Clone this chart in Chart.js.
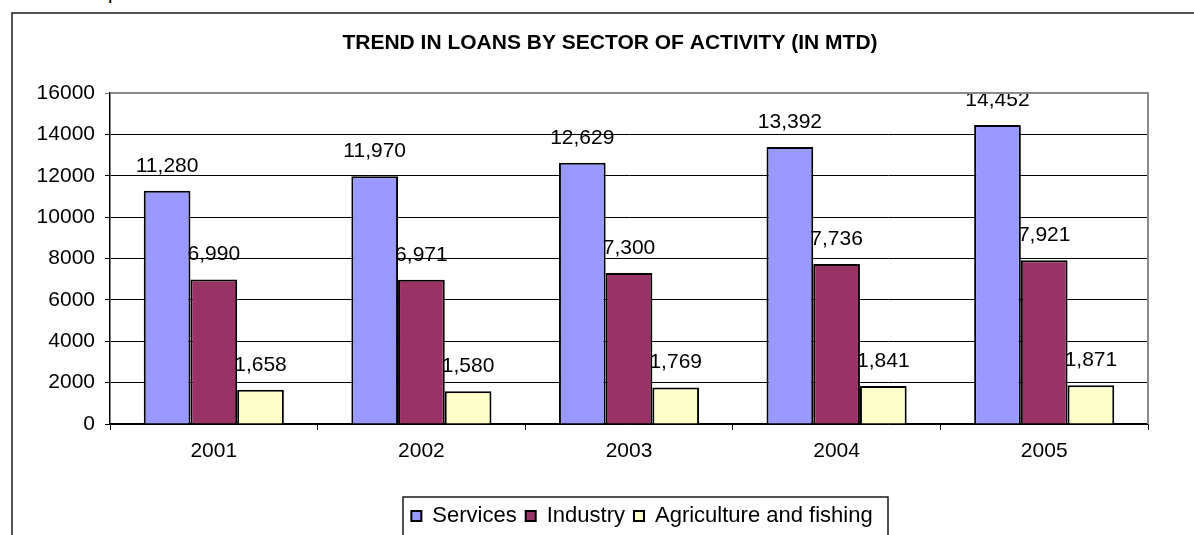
<!DOCTYPE html>
<html>
<head>
<meta charset="utf-8">
<script src="https://cdn.jsdelivr.net/npm/chart.js@4.4.1/dist/chart.umd.min.js"></script>
<style>
  html, body { margin: 0; padding: 0; background: #fff; overflow: hidden; }
  #wrap { position: relative; width: 1194px; height: 535px; }
  #chart { position: absolute; left: 0; top: 0; }
  #frag { position: absolute; left: 108px; top: -18px; font: 20px "Liberation Sans", Arial, sans-serif; color: #000; line-height: 1; }
</style>
</head>
<body>
<div id="wrap">
  <span id="frag">p</span>
  <canvas id="chart" width="1194" height="535"></canvas>
</div>
<script>
// Loans by sector of activity, in MTD
const years = ['2001', '2002', '2003', '2004', '2005'];
const services = [11280, 11970, 12629, 13392, 14452];
const industry = [6990, 6971, 7300, 7736, 7921];
const agriculture = [1658, 1580, 1769, 1841, 1871];
const yTicks = [0, 2000, 4000, 6000, 8000, 10000, 12000, 14000, 16000];

const FONT = '"Liberation Sans", Arial, sans-serif';
const titleText = 'TREND IN LOANS BY SECTOR OF ACTIVITY (IN MTD)';

// Outer frame, plot frame, title and legend box
const framePlugin = {
  id: 'frame',
  afterLayout(chart) {
    const lg = chart.legend;
    if (lg) { lg.left += 68; lg.right += 68; lg.top += 2; lg.bottom += 2; }
  },
  beforeDraw(chart) {
    const ctx = chart.ctx;
    ctx.save();
    ctx.strokeStyle = '#1a1a1a';
    ctx.lineWidth = 1.5;
    ctx.beginPath();
    ctx.moveTo(12, 535);
    ctx.lineTo(12, 13);
    ctx.lineTo(1194, 13);
    ctx.stroke();
    ctx.fillStyle = '#000';
    ctx.font = 'bold 21px ' + FONT;
    ctx.textAlign = 'center';
    ctx.textBaseline = 'alphabetic';
    ctx.fillText(titleText, 610, 49);
    ctx.restore();
  },
  afterDraw(chart) {
    const ctx = chart.ctx;
    const a = chart.chartArea;
    ctx.save();
    ctx.strokeStyle = '#8a8a8a';
    ctx.lineWidth = 2;
    ctx.beginPath();
    ctx.moveTo(a.left, a.top);
    ctx.lineTo(a.right, a.top);
    ctx.lineTo(a.right, a.bottom);
    ctx.stroke();
    // legend frame
    ctx.strokeStyle = '#1a1a1a';
    ctx.lineWidth = 1.5;
    ctx.beginPath();
    ctx.moveTo(403, 540);
    ctx.lineTo(403, 497);
    ctx.lineTo(888, 497);
    ctx.lineTo(888, 540);
    ctx.stroke();
    ctx.restore();
  }
};

// Value labels above each bar
const valueLabels = {
  id: 'valueLabels',
  afterDatasetsDraw(chart) {
    const ctx = chart.ctx;
    ctx.save();
    ctx.fillStyle = '#000';
    ctx.font = '21px ' + FONT;
    ctx.textAlign = 'center';
    ctx.textBaseline = 'alphabetic';
    chart.data.datasets.forEach((ds, i) => {
      chart.getDatasetMeta(i).data.forEach((bar, j) => {
        ctx.fillText(ds.data[j].toLocaleString('en-US'), bar.x, bar.y - 19);
      });
    });
    ctx.restore();
  }
};

new Chart(document.getElementById('chart'), {
  type: 'bar',
  data: {
    labels: years,
    datasets: [
      { label: 'Services', data: services, backgroundColor: '#9999ff', borderColor: '#000', borderWidth: 2 },
      { label: 'Industry', data: industry, backgroundColor: '#993366', borderColor: '#000', borderWidth: 2 },
      { label: 'Agriculture and fishing', data: agriculture, backgroundColor: '#ffffcc', borderColor: '#000', borderWidth: 2 }
    ]
  },
  options: {
    responsive: false,
    animation: false,
    devicePixelRatio: 1,
    layout: { padding: { left: 0, right: 46, top: 93, bottom: 0 } },
    datasets: { bar: { categoryPercentage: 0.675, barPercentage: 1.0 } },
    scales: {
      x: {
        afterFit(s) { s.height = 70; },
        grid: { display: true, drawOnChartArea: false, drawTicks: true, tickLength: 6, color: '#000', offset: true },
        border: { display: true, color: '#000', width: 1.5 },
        ticks: { color: '#000', font: { family: FONT, size: 21 }, padding: 9, maxRotation: 0 }
      },
      y: {
        min: 0,
        max: 16000,
        afterFit(s) { s.width = 110; },
        afterBuildTicks(s) { s.ticks = yTicks.map(v => ({ value: v })); },
        grid: {
          color: c => (c.tick && c.tick.value === 16000 ? '#8a8a8a' : '#000'),
          lineWidth: 1,
          tickLength: 5
        },
        border: { display: true, color: '#000', width: 1.5 },
        ticks: { color: '#000', font: { family: FONT, size: 21 }, padding: 10, callback: v => String(v) }
      }
    },
    plugins: {
      title: { display: false },
      tooltip: { enabled: false },
      legend: {
        position: 'bottom',
        labels: {
          color: '#000',
          font: { family: FONT, size: 22 },
          boxWidth: 10,
          boxHeight: 10,
          padding: 9,
          useBorderRadius: false
        }
      }
    }
  },
  plugins: [framePlugin, valueLabels]
});
</script>
</body>
</html>
